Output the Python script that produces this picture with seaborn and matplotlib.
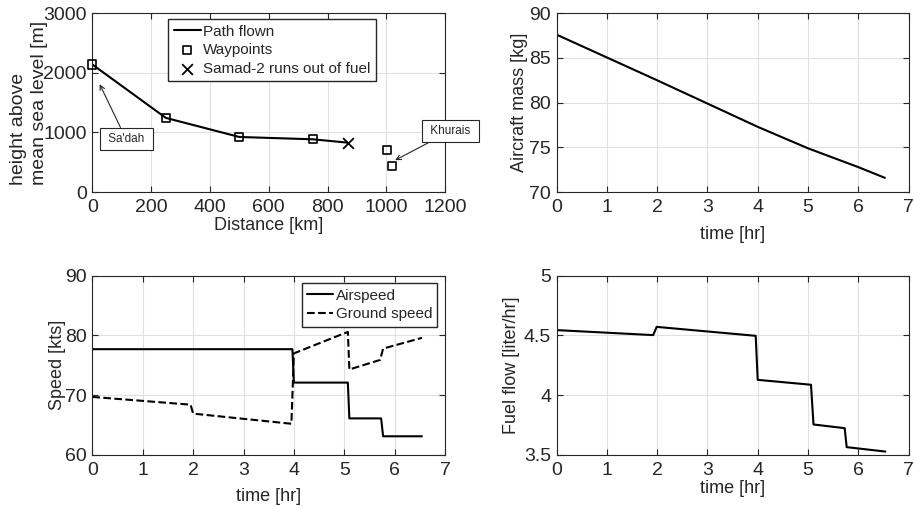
import numpy as np
import pandas as pd
import matplotlib
matplotlib.use("Agg")
import matplotlib.pyplot as plt
import seaborn as sns

# --- path profile (distance vs height) ---
path_dist = [0, 250, 500, 750, 868]
path_height = [2140, 1245, 925, 886, 830]
wp_dist = [0, 250, 500, 750, 1001, 1018]
wp_height = [2140, 1245, 925, 886, 712, 437]
fuel_out_dist = [868]
fuel_out_height = [830]

# --- aircraft mass ---
mass_t = [0, 1, 2, 3, 4, 5, 6, 6.53]
mass_kg = [87.6, 85.05, 82.5, 79.9, 77.3, 74.9, 72.8, 71.6]

# --- speeds ---
air_t = [0, 3.97, 4.0, 5.07, 5.1, 5.73, 5.77, 6.54]
air_kts = [77.7, 77.7, 72.1, 72.1, 66.1, 66.1, 63.1, 63.1]
gnd_t = [0, 1.95, 2.0, 3.95, 4.0, 5.07, 5.1, 5.71, 5.77, 6.54]
gnd_kts = [69.7, 68.4, 66.9, 65.2, 77.0, 80.6, 74.3, 75.9, 77.8, 79.6]

# --- fuel flow ---
ff_t = [0, 1.92, 1.99, 3.96, 4.0, 5.06, 5.11, 5.73, 5.77, 6.54]
ff_lph = [4.545, 4.503, 4.572, 4.497, 4.128, 4.087, 3.754, 3.723, 3.564, 3.527]

sns.set_theme(style="ticks")
plt.rcParams['font.family'] = ['Liberation Sans', 'DejaVu Sans']
dark = "#262626"

fig = plt.figure(figsize=(9.14, 5.07), dpi=100)
ax1 = fig.add_axes([0.101, 0.621, 0.386, 0.353])
ax2 = fig.add_axes([0.609, 0.621, 0.385, 0.353])
ax3 = fig.add_axes([0.101, 0.103, 0.386, 0.353])
ax4 = fig.add_axes([0.609, 0.103, 0.385, 0.353])

lw = 1.5

# top-left: height profile
sns.lineplot(x=path_dist, y=path_height, ax=ax1, color="black", lw=lw, label="Path flown")
sns.scatterplot(x=wp_dist, y=wp_height, ax=ax1, marker="s", s=34, facecolor="none",
                edgecolor="black", linewidth=1.2, label="Waypoints", zorder=3)
sns.scatterplot(x=fuel_out_dist, y=fuel_out_height, ax=ax1, marker="x", s=60,
                color="black", linewidth=1.3, label="Samad-2 runs out of fuel", zorder=3)
for c in ax1.collections:
    c.set_clip_on(False)
ax1.set_xlim(0, 1200)
ax1.set_ylim(0, 3000)
ax1.set_xticks(range(0, 1201, 200))
ax1.set_yticks([0, 1000, 2000, 3000])
ax1.set_xlabel("Distance [km]")
ax1.set_ylabel("height above\nmean sea level [m]", multialignment="left", linespacing=1.25)
ax1.legend(loc="upper left", bbox_to_anchor=(0.215, 0.965), fontsize=11, frameon=True,
           fancybox=False, edgecolor=dark, framealpha=1, handlelength=1.8,
           handletextpad=0.15, borderpad=0.35, labelspacing=0.3, borderaxespad=0)

box = dict(boxstyle="square,pad=0.45", fc="white", ec=dark, lw=0.8)
arrow = dict(arrowstyle="->", color=dark, lw=0.8, shrinkA=0, shrinkB=0)
ax1.annotate(" Sa'dah ", xy=(25, 1810), xytext=(115, 888), fontsize=8.5, ha="center",
             va="center", bbox=box, arrowprops=arrow)
t = ax1.annotate(" Khurais ", xy=(1030, 536), xytext=(1218, 1022), fontsize=8.5, ha="center",
                 va="center", bbox=box, arrowprops=arrow, annotation_clip=False)
t.set_clip_on(False)

# top-right: mass
sns.lineplot(x=mass_t, y=mass_kg, ax=ax2, color="black", lw=lw)
ax2.set_xlim(0, 7)
ax2.set_ylim(70, 90)
ax2.set_yticks([70, 75, 80, 85, 90])
ax2.set_xlabel("time [hr]")
ax2.set_ylabel("Aircraft mass [kg]")

# bottom-left: speeds
sns.lineplot(x=air_t, y=air_kts, ax=ax3, color="black", lw=lw, label="Airspeed")
sns.lineplot(x=gnd_t, y=gnd_kts, ax=ax3, color="black", lw=lw, ls="--", label="Ground speed")
ax3.set_xlim(0, 7)
ax3.set_ylim(60, 90)
ax3.set_yticks([60, 70, 80, 90])
ax3.set_xlabel("time [hr]")
ax3.set_ylabel("Speed [kts]")
ax3.legend(loc="upper right", fontsize=11, frameon=True, fancybox=False, edgecolor=dark,
           framealpha=1, handlelength=1.7, handletextpad=0.15, borderpad=0.35,
           labelspacing=0.3, borderaxespad=0.5)

# bottom-right: fuel flow
sns.lineplot(x=ff_t, y=ff_lph, ax=ax4, color="black", lw=lw)
ax4.set_xlim(0, 7)
ax4.set_ylim(3.5, 5)
ax4.set_yticks([3.5, 4, 4.5, 5])
ax4.set_yticklabels(["3.5", "4", "4.5", "5"])
ax4.set_xlabel("time [hr]")
ax4.set_ylabel("Fuel flow [liter/hr]")

for ax in (ax1, ax2, ax3, ax4):
    if ax in (ax2, ax3, ax4):
        ax.set_xticks(range(0, 8))
    ax.grid(True, color="#e0e0e0", lw=0.8)
    ax.set_axisbelow(True)
    ax.tick_params(direction="in", top=True, right=True, length=4, width=0.8,
                   labelsize=14, colors=dark)
    ax.tick_params(axis="x", pad=5)
    ax.tick_params(axis="y", pad=4)
    for s in ax.spines.values():
        s.set_color(dark)
        s.set_linewidth(0.8)
    ax.xaxis.label.set_size(13)
    ax.yaxis.label.set_size(13)
    ax.xaxis.labelpad = 1
    ax.yaxis.labelpad = 1

# individual label offsets
ax1.yaxis.label.set_size(14)
ax2.xaxis.labelpad = 7
ax3.xaxis.labelpad = 7
ax3.yaxis.labelpad = -1
ax4.yaxis.labelpad = 3
ax1.yaxis.set_label_coords(-0.127, 0.5)

fig.savefig("out.png", dpi=100)
